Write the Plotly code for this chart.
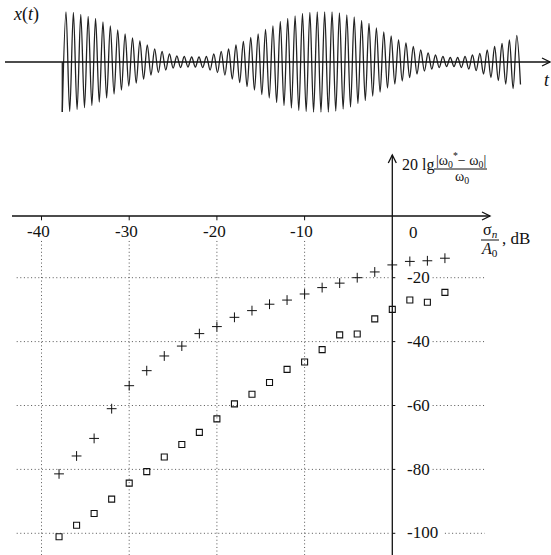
import plotly.graph_objects as go

# ---------------- data ----------------
# bottom chart: x = sigma_n/A0 (dB), y = 20 lg |w0*-w0|/w0
plus_x = [-38, -36, -34, -32, -30, -28, -26, -24, -22, -20, -18, -16, -14, -12, -10, -8, -6, -4, -2, 0, 2, 4, 6]
plus_y = [-81.4, -75.8, -70.3, -61.0, -53.8, -49.1, -44.5, -41.4, -37.5, -35.3, -32.4, -30.3, -28.3,
          -27.0, -25.1, -23.1, -21.7, -20.0, -18.2, -16.0, -14.9, -14.7, -13.9]
sq_x = [-38, -36, -34, -32, -30, -28, -26, -24, -22, -20, -18, -16, -14, -12, -10, -8, -6, -4, -2, 0, 2, 4, 6]
sq_y = [-101.1, -97.5, -93.8, -89.3, -84.3, -80.7, -76.1, -72.2, -68.4, -64.2, -59.5, -56.5, -52.8,
        -48.7, -46.4, -42.5, -37.9, -37.6, -32.9, -29.9, -27.0, -27.7, -24.6]
x_ticks = [-40, -30, -20, -10]
x_tick_labels = ["-40", "-30", "-20", "-10"]
y_ticks = [-20, -40, -60, -80, -100]
y_tick_labels = ["-20", "-40", "-60", "-80", "-100"]

# top chart: peak amplitude of each carrier cycle of x(t)
peak_amp = [1.00, 0.99, 0.95, 0.91, 0.87, 0.80, 0.72, 0.64, 0.56, 0.48,
            0.42, 0.34, 0.26, 0.21, 0.16, 0.12, 0.11, 0.10, 0.10, 0.11,
            0.16, 0.21, 0.26, 0.34, 0.41, 0.49, 0.56, 0.65, 0.72, 0.81,
            0.87, 0.92, 0.97, 0.99, 1.00, 1.00, 1.00, 0.98, 0.94, 0.90,
            0.83, 0.77, 0.68, 0.60, 0.52, 0.44, 0.38, 0.31, 0.24, 0.18,
            0.14, 0.11, 0.09, 0.09, 0.11, 0.14, 0.17, 0.24, 0.31, 0.37,
            0.44, 0.53]
final_trough = 0.45

# ---------------- geometry helpers (pixel scale of the picture) ----------------
W, H = 551, 555
X0PX, XSC = 392.3, 8.77      # px of x=0, px per dB
Y0PX, YSC = 213.8, 3.195     # px of y=0, px per unit
T0PX, TSC = 66.0, 7.39       # px of first peak, px per carrier period
C0PX, ASC = 62.0, 50.0       # px of x(t)=0, px per unit amplitude

def dx(px):  # pixel distance -> x units
    return px / XSC

def dy(px):
    return px / YSC

def px2x(px):
    return (px - X0PX) / XSC

def px2y(px):
    return (Y0PX - px) / YSC

xr = [-X0PX / XSC, (W - X0PX) / XSC]
yr = [(Y0PX - H) / YSC, Y0PX / YSC]
tr = [-T0PX / TSC, (W - T0PX) / TSC]
ar = [(C0PX - H) / ASC, C0PX / ASC]

FONT = "Liberation Serif, Times New Roman, serif"
INK = "#111111"
GRID = "#555555"

fig = go.Figure()

# ---------------- waveform ----------------
wt, wv = [], []
for k, a in enumerate(peak_amp):
    wt.append(k - 0.5); wv.append(-a)
    wt.append(k); wv.append(a)
wt.append(len(peak_amp) - 0.5); wv.append(-final_trough)
fig.add_trace(go.Scatter(x=wt, y=wv, mode="lines", xaxis="x2", yaxis="y2",
                         line=dict(color="#222222", width=1.3, shape="spline", smoothing=1.0),
                         hoverinfo="skip", showlegend=False))

# ---------------- scatter data ----------------
fig.add_trace(go.Scatter(x=plus_x, y=plus_y, mode="markers", showlegend=False,
                         marker=dict(symbol="cross-thin", size=7,
                                     line=dict(color=INK, width=1))))
fig.add_trace(go.Scatter(x=sq_x, y=sq_y, mode="markers", showlegend=False,
                         marker=dict(symbol="square-open", size=6, color=INK,
                                     line=dict(color=INK, width=1.1))))

shapes = []
dot = "1px,2.6px"
# horizontal grid lines
for v in y_ticks:
    shapes.append(dict(type="line", xref="x", yref="y", x0=xr[0] + dx(16.7), x1=-dx(3),
                       y0=v, y1=v, layer="below", line=dict(color=GRID, width=1, dash=dot)))
    xstart = 6.0 if v == -100 else 4.6
    shapes.append(dict(type="line", xref="x", yref="y", x0=xstart, x1=10.56,
                       y0=v, y1=v, layer="below", line=dict(color=GRID, width=1, dash=dot)))
    # small tick on y axis
    shapes.append(dict(type="line", xref="x", yref="y", x0=0, x1=dx(3),
                       y0=v, y1=v, line=dict(color=INK, width=1)))
# vertical grid lines
for v in x_ticks:
    shapes.append(dict(type="line", xref="x", yref="y", x0=v, x1=v,
                       y0=-8.5, y1=yr[0], layer="below", line=dict(color=GRID, width=1, dash=dot)))
    shapes.append(dict(type="line", xref="x", yref="y", x0=v, x1=v,
                       y0=-dy(2.2), y1=-dy(6.5), line=dict(color=INK, width=1)))

# main axes
xaxis_y = -dy(2.2)
xtip = px2x(490)
shapes.append(dict(type="line", xref="x", yref="y", x0=px2x(12), x1=xtip,
                   y0=xaxis_y, y1=xaxis_y, line=dict(color=INK, width=1.3)))
shapes.append(dict(type="path", xref="x", yref="y",
                   path=f"M {xtip - dx(8)},{xaxis_y + dy(4)} L {xtip},{xaxis_y} L {xtip - dx(8)},{xaxis_y - dy(4)}",
                   line=dict(color=INK, width=1.3)))
ytip = px2y(155)
shapes.append(dict(type="line", xref="x", yref="y", x0=0, x1=0, y0=yr[0], y1=ytip,
                   line=dict(color=INK, width=1.3)))
shapes.append(dict(type="path", xref="x", yref="y",
                   path=f"M {-dx(4)},{ytip - dy(8)} L 0,{ytip} L {dx(4)},{ytip - dy(8)}",
                   line=dict(color=INK, width=1.3)))
# fraction bars
shapes.append(dict(type="line", xref="x", yref="y", x0=px2x(434), x1=px2x(487),
                   y0=px2y(169), y1=px2y(169), line=dict(color=INK, width=1)))
shapes.append(dict(type="line", xref="x", yref="y", x0=px2x(481), x1=px2x(499),
                   y0=px2y(240), y1=px2y(240), line=dict(color=INK, width=1)))

# top time axis
ttip = (550 - T0PX) / TSC
shapes.append(dict(type="line", xref="x2", yref="y2", x0=tr[0] + 5 / TSC, x1=ttip, y0=0, y1=0,
                   line=dict(color=INK, width=1.3)))
shapes.append(dict(type="path", xref="x2", yref="y2",
                   path=f"M {ttip - 8 / TSC},{4 / ASC} L {ttip},0 L {ttip - 8 / TSC},{-4 / ASC}",
                   line=dict(color=INK, width=1.3)))
# starting stroke of the burst
shapes.append(dict(type="line", xref="x2", yref="y2", x0=-0.5, x1=-0.5, y0=0, y1=-peak_amp[0],
                   line=dict(color="#222222", width=1.3)))

ann = []
def txt(x, y, s, size=17, xanchor="center", xref="x", yref="y"):
    ann.append(dict(x=x, y=y, xref=xref, yref=yref, text=s, showarrow=False,
                    xanchor=xanchor, yanchor="middle",
                    font=dict(family=FONT, size=size, color=INK)))

for v, s in zip(x_ticks, x_tick_labels):
    txt(v - 0.3, -5.6, s)
txt(2.47, -5.9, "0")
for v, s in zip(y_ticks, y_tick_labels):
    txt(px2x(405), v + 0.1, s, xanchor="left")

# y-axis title
txt(px2x(400), px2y(165), "20 lg", size=16, xanchor="left")
txt(px2x(460.5), px2y(160), "|ω<sub>0</sub><sup>*</sup>− ω<sub>0</sub>|", size=14)
txt(px2x(461.7), px2y(177.5), "ω<sub>0</sub>", size=14)
# x-axis title
txt(px2x(490), px2y(230), "σ<sub><i>n</i></sub>", size=16)
txt(px2x(489), px2y(249.5), "<i>A</i><sub>0</sub>", size=16)
txt(px2x(500), px2y(238), ", dB", size=17, xanchor="left")

# top labels
txt((25.5 - T0PX) / TSC, (C0PX - 14) / ASC, "<i>x</i>(<i>t</i>)", size=18, xref="x2", yref="y2")
txt((546.5 - T0PX) / TSC, (C0PX - 80) / ASC, "<i>t</i>", size=18, xref="x2", yref="y2")

hidden = dict(showgrid=False, zeroline=False, showticklabels=False, ticks="", showline=False,
              fixedrange=True)
fig.update_layout(
    width=W, height=H, margin=dict(l=0, r=0, t=0, b=0, pad=0),
    paper_bgcolor="white", plot_bgcolor="rgba(0,0,0,0)", showlegend=False,
    xaxis=dict(domain=[0, 1], range=xr, **hidden),
    yaxis=dict(domain=[0, 1], range=yr, **hidden),
    xaxis2=dict(domain=[0, 1], range=tr, anchor="y2", **hidden),
    yaxis2=dict(domain=[0, 1], range=ar, anchor="x2", **hidden),
    shapes=shapes, annotations=ann,
)

fig.write_html("out.html", config={"displayModeBar": False},
               post_script="document.body.style.margin='0';document.body.style.overflow='hidden';")
